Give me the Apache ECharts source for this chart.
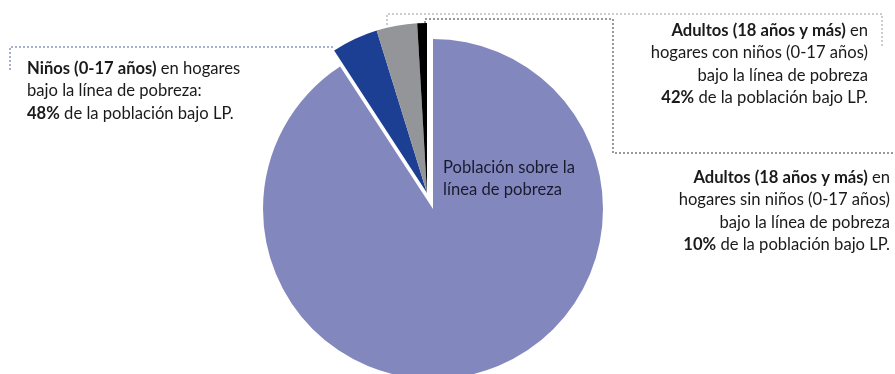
<!DOCTYPE html>
<html>
<head>
<meta charset="utf-8">
<script src="https://cdn.jsdelivr.net/npm/echarts@6/dist/echarts.min.js"></script>
<style>
  html, body { margin: 0; padding: 0; background: #fff; }
  #chart { width: 895px; height: 374px; }
</style>
</head>
<body>
<div id="chart"></div>
<script>
// Share of the population below the poverty line (LP), in percent
const povertyRate = 9.2;
// Breakdown of the population below LP (percent of the poor population)
const groupNames = ['Niños (0-17 años)', 'Adultos con niños', 'Adultos sin niños'];
const groupShares = [48, 42, 10];
const groupColors = ['#1c3f94', '#939598', '#000000'];
const aboveName = 'Población sobre la línea de pobreza';
const aboveColor = '#8288be';

const FONT = 'Lato';
const FS = 16.6;
const TXT = '#1a1a1a';
const clear = { color: 'rgba(0,0,0,0)', borderWidth: 0 };

const aboveValue = 100 - povertyRate;
const groupValues = groupShares.map(s => povertyRate * s / 100);

// Main pie: the slice above the poverty line; the poor wedge is left empty here
const mainData = [{ name: aboveName, value: aboveValue, itemStyle: { color: aboveColor } }]
  .concat(groupValues.map((v, i) => ({ name: groupNames[i], value: v, itemStyle: clear })));

// Pulled-out wedge: the three groups under the poverty line, moved together
const wedgeData = [{ name: aboveName, value: aboveValue, itemStyle: clear }]
  .concat(groupValues.map((v, i) => ({ name: groupNames[i], value: v, itemStyle: { color: groupColors[i] } })));

const pieBase = {
  type: 'pie',
  radius: 170,
  startAngle: 90,
  clockwise: true,
  avoidLabelOverlap: false,
  label: { show: false },
  labelLine: { show: false },
  emphasis: { disabled: true },
  silent: true,
  animation: false
};

const richB = { fontFamily: FONT, fontSize: FS, fontWeight: 'bold', lineHeight: 22.5, fill: TXT, color: TXT };

function txt(x, y, text, align, color) {
  return {
    type: 'text', x: x, y: y, silent: true, z: 100,
    style: {
      text: text, fill: color || TXT, fontFamily: FONT, fontSize: FS, lineHeight: 22.5,
      textAlign: align, textVerticalAlign: 'top',
      rich: { b: richB }
    }
  };
}

function dotted(points, color) {
  return {
    type: 'polyline', silent: true, z: 100,
    shape: { points: points },
    style: { stroke: color, lineWidth: 1, lineDash: [2, 2], fill: null }
  };
}

const chart = echarts.init(document.getElementById('chart'), null, { renderer: 'canvas' });
chart.setOption({
  backgroundColor: '#ffffff',
  animation: false,
  series: [
    Object.assign({}, pieBase, { center: [433, 209], data: mainData }),
    Object.assign({}, pieBase, { center: [427, 193], data: wedgeData })
  ],
  graphic: [
    dotted([[10, 70], [10, 47], [333, 47]], '#4f63a8'),
    dotted([[387, 25], [387, 14], [882, 14], [882, 48]], '#9a9a9a'),
    dotted([[425, 23], [425, 19], [613, 19], [613, 153], [895, 153]], '#333333'),
    txt(27, 57, '{b|Niños (0-17 años)} en hogares\nbajo la línea de pobreza:\n{b|' + groupShares[0] + '%} de la población bajo LP.', 'left'),
    txt(868, 19, '{b|Adultos (18 años y más)} en\nhogares con niños (0-17 años)\nbajo la línea de pobreza\n{b|' + groupShares[1] + '%} de la población bajo LP.', 'right'),
    txt(890, 166, '{b|Adultos (18 años y más)} en\nhogares sin niños (0-17 años)\nbajo la línea de pobreza\n{b|' + groupShares[2] + '%} de la población bajo LP.', 'right'),
    txt(443, 156, aboveName.replace(' la ', ' la\n'), 'left', '#1a1a2e')
  ]
});
</script>
</body>
</html>
